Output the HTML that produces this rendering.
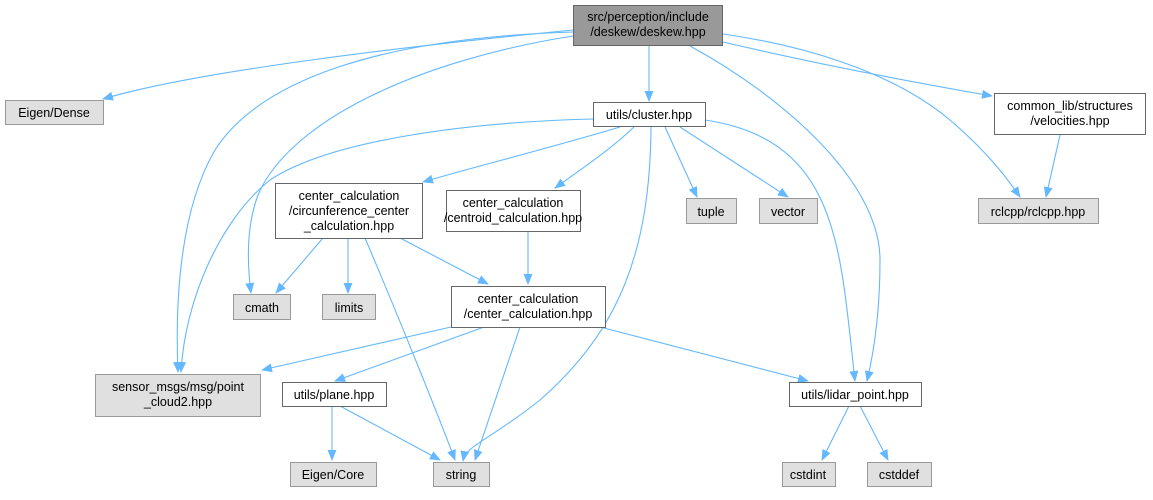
<!DOCTYPE html>
<html><head><meta charset="utf-8"><style>
html,body{margin:0;padding:0;background:#fff}
svg text{font-family:"Liberation Sans",Helvetica,Arial,sans-serif;font-size:12.5px;fill:#000}
</style></head><body>
<svg width="1153" height="495" viewBox="0 0 1153 495" xmlns="http://www.w3.org/2000/svg">
<defs><marker id="a" markerWidth="11" markerHeight="9" refX="10" refY="4.5" orient="auto" markerUnits="userSpaceOnUse"><path d="M0,0 L11,4.5 L0,9 z" fill="#63b8ff"/></marker></defs>
<g fill="none" stroke="#63b8ff" stroke-width="1.1" marker-end="url(#a)">
<path d="M573,30 C420,45 200,70 103,99"/>
<path d="M573,32 C380,38 260,80 215,150 C180,210 175,300 178,372"/>
<path d="M573,36 C420,60 290,120 258,195 C245,230 248,270 251,293"/>
<path d="M649,46 L649,101"/>
<path d="M690,46 C780,95 880,180 880,260 C880,320 872,360 867,381"/>
<path d="M723,34 C800,45 890,70 950,120 C985,150 1005,175 1020,197"/>
<path d="M723,42 C800,60 900,80 992,96"/>
<path d="M1060,135 L1046,197"/>
<path d="M593,119 C470,122 330,140 270,180 C220,220 185,300 181,372"/>
<path d="M620,127 C550,148 470,168 423,182"/>
<path d="M634,127 C610,150 580,170 555,188"/>
<path d="M651,127 C650,250 620,330 540,400 C490,440 466,445 463,461"/>
<path d="M665,127 L697,197"/>
<path d="M680,127 L788,197"/>
<path d="M705,120 C840,140 840,250 855,381"/>
<path d="M323,238 L276,293"/>
<path d="M348,238 L348,293"/>
<path d="M365,238 C400,320 440,420 455,460"/>
<path d="M400,238 L488,284"/>
<path d="M528,231 L528,284"/>
<path d="M451,327 L262,370"/>
<path d="M484,327 L335,381"/>
<path d="M520,327 L475,460"/>
<path d="M600,327 L808,381"/>
<path d="M340,406 L440,460"/>
<path d="M332,406 L332,460"/>
<path d="M849,406 L822,460"/>
<path d="M860,406 L888,460"/>
</g>
<g stroke-width="1">
<rect x="573.5" y="5.5" width="149" height="40" fill="#999" stroke="#666"/>
<rect x="5.5" y="100.5" width="98" height="24" fill="#e0e0e0" stroke="#999"/>
<rect x="593.5" y="102.5" width="112" height="24" fill="#fff" stroke="#666"/>
<rect x="994.5" y="93.5" width="151" height="41" fill="#fff" stroke="#666"/>
<rect x="978.5" y="198.5" width="120" height="25" fill="#e0e0e0" stroke="#999"/>
<rect x="275.5" y="183.5" width="147" height="55" fill="#fff" stroke="#666"/>
<rect x="446.5" y="190.5" width="134" height="41" fill="#fff" stroke="#666"/>
<rect x="686.5" y="198.5" width="50" height="25" fill="#e0e0e0" stroke="#999"/>
<rect x="759.5" y="198.5" width="58" height="25" fill="#e0e0e0" stroke="#999"/>
<rect x="233.5" y="294.5" width="57" height="25" fill="#e0e0e0" stroke="#999"/>
<rect x="322.5" y="294.5" width="53" height="25" fill="#e0e0e0" stroke="#999"/>
<rect x="451.5" y="286.5" width="154" height="41" fill="#fff" stroke="#666"/>
<rect x="95.5" y="374.5" width="165" height="42" fill="#e0e0e0" stroke="#999"/>
<rect x="282.5" y="382.5" width="104" height="24" fill="#fff" stroke="#666"/>
<rect x="789.5" y="382.5" width="132" height="24" fill="#fff" stroke="#666"/>
<rect x="290.5" y="462.5" width="86" height="24" fill="#e0e0e0" stroke="#999"/>
<rect x="433.5" y="462.5" width="56" height="24" fill="#e0e0e0" stroke="#999"/>
<rect x="782.5" y="462.5" width="53" height="24" fill="#e0e0e0" stroke="#999"/>
<rect x="867.5" y="462.5" width="64" height="24" fill="#e0e0e0" stroke="#999"/>
</g>
<g text-anchor="middle">
<text x="648" y="21">src/perception/include</text>
<text x="648" y="36">/deskew/deskew.hpp</text>
<text x="54" y="117">Eigen/Dense</text>
<text x="649" y="119">utils/cluster.hpp</text>
<text x="1070" y="110">common_lib/structures</text>
<text x="1070" y="125">/velocities.hpp</text>
<text x="1038" y="216">rclcpp/rclcpp.hpp</text>
<text x="349" y="200">center_calculation</text>
<text x="349" y="215">/circunference_center</text>
<text x="349" y="230">_calculation.hpp</text>
<text x="513" y="207">center_calculation</text>
<text x="513" y="222">/centroid_calculation.hpp</text>
<text x="711" y="216">tuple</text>
<text x="788" y="216">vector</text>
<text x="262" y="312">cmath</text>
<text x="349" y="312">limits</text>
<text x="528" y="303">center_calculation</text>
<text x="528" y="318">/center_calculation.hpp</text>
<text x="178" y="391">sensor_msgs/msg/point</text>
<text x="178" y="406">_cloud2.hpp</text>
<text x="334" y="399">utils/plane.hpp</text>
<text x="855" y="399">utils/lidar_point.hpp</text>
<text x="333" y="479">Eigen/Core</text>
<text x="461" y="479">string</text>
<text x="808" y="479">cstdint</text>
<text x="899" y="479">cstddef</text>
</g>
</svg>
</body></html>
